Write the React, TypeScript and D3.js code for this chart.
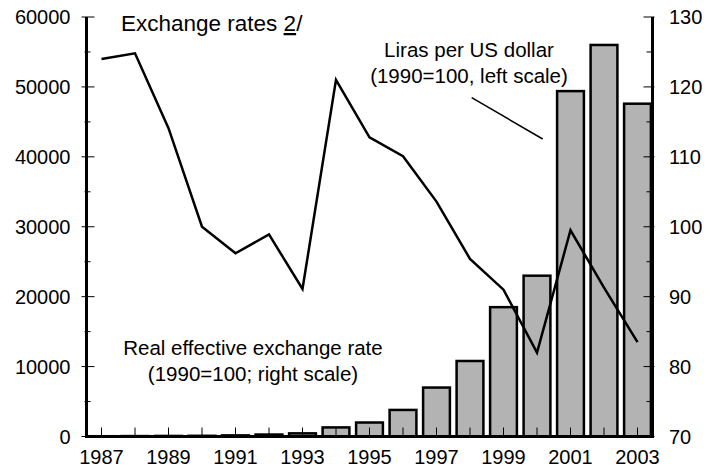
import React from "react";
import * as d3 from "d3";

const years = [1987, 1988, 1989, 1990, 1991, 1992, 1993, 1994, 1995, 1996, 1997, 1998, 1999, 2000, 2001, 2002, 2003];
const lirasPerUsd = [40, 60, 80, 100, 160, 280, 450, 1300, 2000, 3800, 7000, 10800, 18500, 23000, 49400, 56000, 47600];
const realEffRate = [124.0, 124.8, 114.1, 100.0, 96.2, 98.9, 91.1, 121.0, 112.8, 110.1, 103.6, 95.4, 91.0, 82.0, 99.5, 91.3, 83.5];
const leftTicks = [0, 10000, 20000, 30000, 40000, 50000, 60000];
const leftMinor = [5000, 15000, 25000, 35000, 45000, 55000];
const rightTicks = [70, 80, 90, 100, 110, 120, 130];
const rightMinor = [75, 85, 95, 105, 115, 125];
const xLabels = [1987, 1989, 1991, 1993, 1995, 1997, 1999, 2001, 2003];

const W = 721;
const H = 474;
const left = 86.5;
const right = 652.5;
const top = 17;
const bottom = 436.5;
const FONT = "'Liberation Sans', Arial, sans-serif";
const FS = 20;
const FA = 20.5;

export default function App() {
  const x = d3.scaleBand<number>().domain(years).range([84.75, 654.25]).paddingInner(0.2).paddingOuter(0.1);
  const yL = d3.scaleLinear().domain([0, 60000]).range([bottom, top]);
  const yR = d3.scaleLinear().domain([70, 130]).range([bottom, top]);
  const cx = (yr: number) => (x(yr) as number) + x.bandwidth() / 2;
  const line = d3
    .line<number>()
    .x((_, i) => cx(years[i]))
    .y((d) => yR(d));

  return (
    <svg width={W} height={H} style={{ position: "absolute", left: 0, top: 0, background: "#fff" }}>
      <rect x={0} y={0} width={W} height={H} fill="#fff" />
      {years.map((yr, i) => (
        <rect
          key={yr}
          x={x(yr)}
          y={yL(lirasPerUsd[i])}
          width={x.bandwidth()}
          height={bottom - yL(lirasPerUsd[i])}
          fill="#b3b3b3"
          stroke="#000"
          strokeWidth={2.5}
        />
      ))}
      <path d={line(realEffRate) || ""} fill="none" stroke="#000" strokeWidth={2.5} strokeLinejoin="miter" />
      {years.map((yr) => (
        <line key={"xt" + yr} x1={cx(yr)} x2={cx(yr)} y1={bottom} y2={bottom - 9} stroke="#000" strokeWidth={1} />
      ))}
      {leftTicks.map((t) => (
        <g key={"lt" + t}>
          <line x1={left - 5} x2={left + 8} y1={yL(t)} y2={yL(t)} stroke="#000" strokeWidth={1} />
          <text x={70.5} y={yL(t)} dy="0.36em" textAnchor="end" fontFamily={FONT} fontSize={FS}>
            {t}
          </text>
        </g>
      ))}
      {leftMinor.map((t) => (
        <line key={"lm" + t} x1={left - 2} x2={left + 4} y1={yL(t)} y2={yL(t)} stroke="#000" strokeWidth={1} />
      ))}
      {rightTicks.map((t) => (
        <g key={"rt" + t}>
          <line x1={right - 9} x2={right + 2} y1={yR(t)} y2={yR(t)} stroke="#000" strokeWidth={1} />
          <text x={669} y={yR(t)} dy="0.36em" textAnchor="start" fontFamily={FONT} fontSize={FS}>
            {t}
          </text>
        </g>
      ))}
      {rightMinor.map((t) => (
        <line key={"rm" + t} x1={right - 6} x2={right} y1={yR(t)} y2={yR(t)} stroke="#000" strokeWidth={1} />
      ))}
      <line x1={left} x2={left} y1={top} y2={bottom + 1.5} stroke="#000" strokeWidth={3} />
      <line x1={right} x2={right} y1={top} y2={bottom + 1.5} stroke="#000" strokeWidth={3} />
      <line x1={left - 1.5} x2={right + 1.5} y1={bottom} y2={bottom} stroke="#000" strokeWidth={3} />
      {xLabels.map((yr) => (
        <text key={"xl" + yr} x={cx(yr)} y={464} textAnchor="middle" fontFamily={FONT} fontSize={FS}>
          {yr}
        </text>
      ))}
      <text x={121} y={31} fontFamily={FONT} fontSize={22.5}>
        Exchange rates <tspan textDecoration="underline">2</tspan>/
      </text>
      <text x={469} y={57} textAnchor="middle" fontFamily={FONT} fontSize={FA}>
        Liras per US dollar
      </text>
      <text x={469} y={83} textAnchor="middle" fontFamily={FONT} fontSize={FA}>
        (1990=100, left scale)
      </text>
      <line x1={471.7} y1={97.7} x2={542.7} y2={139} stroke="#000" strokeWidth={1.5} />
      <text x={253} y={355} textAnchor="middle" fontFamily={FONT} fontSize={FA}>
        Real effective exchange rate
      </text>
      <text x={253} y={381} textAnchor="middle" fontFamily={FONT} fontSize={FA}>
        (1990=100; right scale)
      </text>
    </svg>
  );
}
